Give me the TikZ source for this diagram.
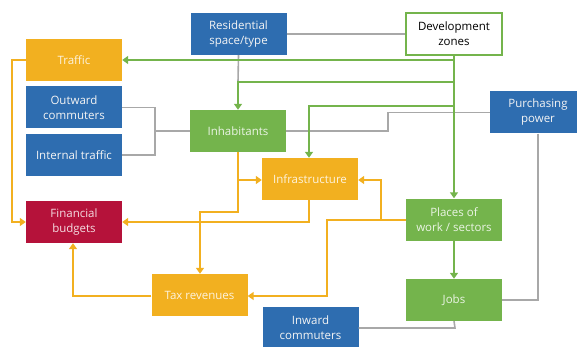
\documentclass[tikz,border=0pt]{standalone}
\usepackage{fontspec}
\setmainfont{Open Sans}
\usetikzlibrary{arrows.meta}
\definecolor{cblue}{HTML}{2E6DB0}
\definecolor{corange}{HTML}{F2B020}
\definecolor{cgreen}{HTML}{74B44C}
\definecolor{cred}{HTML}{B5123A}
\definecolor{cgray}{HTML}{A8A8A8}
\definecolor{ctext}{HTML}{F4F4F4}
\tikzset{
  box/.style={minimum width=96pt, minimum height=42pt, inner sep=0pt, align=center,
    font=\fontsize{11.5}{15}\selectfont, text=ctext},
  bluebox/.style={box, fill=cblue},
  orangebox/.style={box, fill=corange, text=white!85!corange},
  greenbox/.style={box, fill=cgreen, text=white!85!cgreen},
  redbox/.style={box, fill=cred, text=white!85!cred},
  whitebox/.style={box, fill=white, draw=cgreen, line width=1.5pt, text=black},
  gline/.style={draw=cgreen, line width=2pt},
  oline/.style={draw=corange, line width=2pt},
  grline/.style={draw=cgray, line width=1.6pt},
  tip/.style={-{Triangle[length=6pt,width=8pt]}},
}
\begin{document}
\begin{tikzpicture}[x=1pt,y=-1pt]
\useasboundingbox (0,0) rectangle (577,347);
\clip (0,0) rectangle (577,347);
% nodes
\node[bluebox] (res) at (238.5,34) {Residential\\space/type};
\node[whitebox] (dev) at (454,34) {Development\\zones};
\node[orangebox] (traf) at (74,60) {Traffic};
\node[bluebox] (out) at (74,107.5) {Outward\\commuters};
\node[bluebox] (int) at (74,155) {Internal traffic};
\node[greenbox] (inh) at (238,131) {Inhabitants};
\node[orangebox] (infra) at (310,179) {Infrastructure};
\node[bluebox] (pur) at (538,112.5) {Purchasing\\power};
\node[redbox] (fin) at (74,222) {Financial\\budgets};
\node[greenbox] (pl) at (454,219.5) {Places of\\work / sectors};
\node[orangebox] (tax) at (199.5,295) {Tax revenues};
\node[greenbox] (jobs) at (454,300) {Jobs};
\node[bluebox] (inw) at (310.5,328) {Inward\\commuters};
% helper coordinates
\coordinate (g1) at (454,60);
\coordinate (g2) at (454,82);
\coordinate (g2b) at (238,82);
\coordinate (g3) at (454,106);
\coordinate (g3b) at (309,106);
\coordinate (b1) at (155,107.5);
\coordinate (b2) at (155,155);
\coordinate (b3) at (155,131);
\coordinate (b4) at (388,131);
\coordinate (b5) at (388,112.5);
\coordinate (b6) at (538,300);
\coordinate (b7) at (455,328);
\coordinate (o1) at (12,60);
\coordinate (o2) at (12,222);
\coordinate (o3) at (238,212);
\coordinate (o4) at (200,212);
\coordinate (o5) at (238,180);
\coordinate (o6) at (309,222);
\coordinate (o7) at (327,219.5);
\coordinate (o8) at (327,296);
\coordinate (o9) at (381,219.5);
\coordinate (o10) at (381,180);
\coordinate (o11) at (73,296);
% gray lines
\draw[grline] (res.east) -- (dev.west);
\draw[grline] (res.south) -- (g2b);
\draw[grline] (out.east) -- (b1) -- (b2) -- (int.east);
\draw[grline] (b3) -- (inh.west);
\draw[grline] (inh.east) -- (b4) -- (b5) -- (pur.west);
\draw[grline] (pur.south) -- (b6) -- (jobs.east);
\draw[grline] (inw.east) -- (b7) -- (jobs.south);
% green lines
\draw[gline,tip] (dev.south) -- (pl.north);
\draw[gline,tip] (g1) -- (traf.east |- g1);
\draw[gline,tip] (g2) -- (g2b) -- (inh.north);
\draw[gline,tip] (g3) -- (g3b) -- (g3b |- infra.north);
\draw[gline,tip] (pl.south) -- (jobs.north);
% orange lines
\draw[oline,tip] (traf.west |- o1) -- (o1) -- (o2) -- (fin.west |- o2);
\draw[oline,tip] (inh.south) -- (o3) -- (o4) -- (o4 |- tax.north);
\draw[oline,tip] (o5) -- (infra.west |- o5);
\draw[oline,tip] (o6 |- infra.south) -- (o6) -- (fin.east |- o6);
\draw[oline,tip] (pl.west) -- (o7) -- (o8) -- (tax.east |- o8);
\draw[oline,tip] (o9) -- (o10) -- (infra.east |- o10);
\draw[oline,tip] (tax.west |- o11) -- (o11) -- (o11 |- fin.south);
\end{tikzpicture}
\end{document}
